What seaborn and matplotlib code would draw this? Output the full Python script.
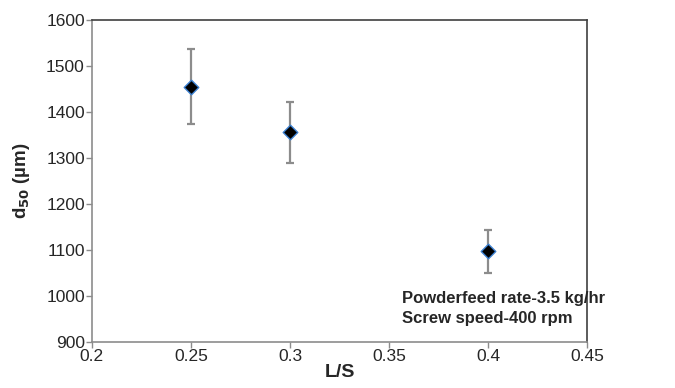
import seaborn as sns
import matplotlib.pyplot as plt
import pandas as pd

ls_ratio = [0.25, 0.3, 0.4]
d50 = [1455, 1357, 1097]
err_low = [82, 67, 48]
err_high = [83, 65, 47]

sns.set_style("white")
plt.rcParams['font.family'] = ['Liberation Sans', 'DejaVu Sans']

df = pd.DataFrame({'LS': ls_ratio, 'd50': d50})

fig = plt.figure(figsize=(6.75, 3.88), dpi=100)
ax = fig.add_axes([0.136, 0.119, 0.734, 0.829])

ax.errorbar(ls_ratio, d50, yerr=[err_low, err_high], fmt='none',
            ecolor='#8c8c8c', elinewidth=1.6, capsize=3, capthick=1.6, zorder=2)
sns.scatterplot(data=df, x='LS', y='d50', marker='D', s=55, color='black',
                edgecolor='#3a7fd0', linewidth=1, zorder=3, ax=ax)

ax.set_xlim(0.2, 0.45)
ax.set_ylim(900, 1600)
ax.set_xticks([0.2, 0.25, 0.3, 0.35, 0.4, 0.45])
ax.set_xticklabels(['0.2', '0.25', '0.3', '0.35', '0.4', '0.45'])
ax.set_yticks(range(900, 1601, 100))
ax.tick_params(axis='both', labelsize=12.5, direction='out', length=4,
               color='#8c8c8c', width=1, left=True, bottom=True, pad=1)
for side in ['left', 'bottom']:
    ax.spines[side].set_color('#8c8c8c')
    ax.spines[side].set_linewidth(1.2)
for side in ['top', 'right']:
    ax.spines[side].set_color('#404040')
    ax.spines[side].set_linewidth(1.2)

ax.set_xlabel('L/S', fontsize=14, fontweight='bold', labelpad=0)
ax.set_ylabel(r'd$_{\mathbf{50}}$ (µm)', fontsize=13.5, fontweight='bold', labelpad=10)

ax.text(0.3566, 972, 'Powderfeed rate-3.5 kg/hr\nScrew speed-400 rpm',
        fontsize=12, fontweight='bold', ha='left', va='center', linespacing=1.4)

fig.savefig('out.png', dpi=100)
